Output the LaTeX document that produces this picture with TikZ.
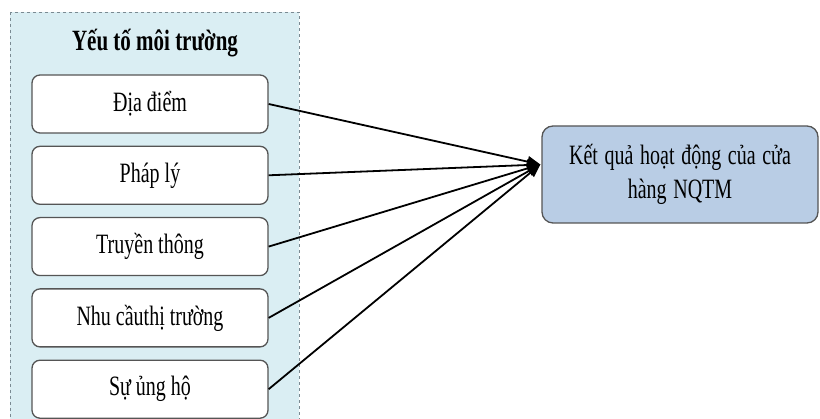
\documentclass[tikz,border=0pt]{standalone}
\usepackage{fontspec}
\usepackage{graphicx}
\setmainfont{Liberation Serif}
\usetikzlibrary{arrows.meta, positioning}
\definecolor{envFill}{HTML}{DAEEF3}
\definecolor{envLine}{HTML}{7A8A92}
\definecolor{boxLine}{HTML}{555555}
\definecolor{resFill}{HTML}{B9CDE5}
\newcommand{\tall}[1]{\scalebox{1}[1.4]{#1}}

\begin{document}
\begin{tikzpicture}[x=1pt, y=1pt,
    factor/.style={rectangle, rounded corners=8pt, draw=boxLine,
                   line width=1.3pt, fill=white, minimum width=236pt,
                   minimum height=58pt, inner sep=2pt,
                   font=\fontsize{20}{24}\selectfont},
    result/.style={rectangle, rounded corners=11pt, draw=boxLine,
                   line width=1.3pt, fill=resFill, minimum width=276pt,
                   minimum height=97pt, align=center, text width=250pt,
                   font=\fontsize{20}{34}\selectfont},
    link/.style={-{Triangle[length=13pt, width=11pt]}, line width=1.8pt, black},
  ]
    \clip (0,0) rectangle (820,419);

    % khung yeu to moi truong
    \draw[envLine, fill=envFill, dashed, line width=0.7pt]
      (10,407) rectangle (299,-10);
    \node[font=\fontsize{21}{25}\selectfont\bfseries] (title) at (155,376)
      {\tall{Yếu tố môi trường}};

    \node[factor] (f1) at (150,315) {\tall{Địa điểm}};
    \node[factor, below=12pt of f1] (f2) {\tall{Pháp lý}};
    \node[factor, below=12pt of f2] (f3) {\tall{Truyền thông}};
    \node[factor, below=12pt of f3] (f4) {\tall{Nhu cầuthị trường}};
    \node[factor, below=12pt of f4] (f5) {\tall{Sự ủng hộ}};

    % ket qua
    \node[result] (res) at (680,244.5)
      {\tall{Kết quả hoạt động của cửa}\\\tall{hàng NQTM}};
    \coordinate (tip) at ([xshift=-1pt, yshift=10pt]res.west);

    \draw[link] (f1.east) -- (tip);
    \draw[link] (f2.east) -- (tip);
    \draw[link] (f3.east) -- (tip);
    \draw[link] (f4.east) -- (tip);
    \draw[link] (f5.east) -- (tip);
\end{tikzpicture}
\end{document}
